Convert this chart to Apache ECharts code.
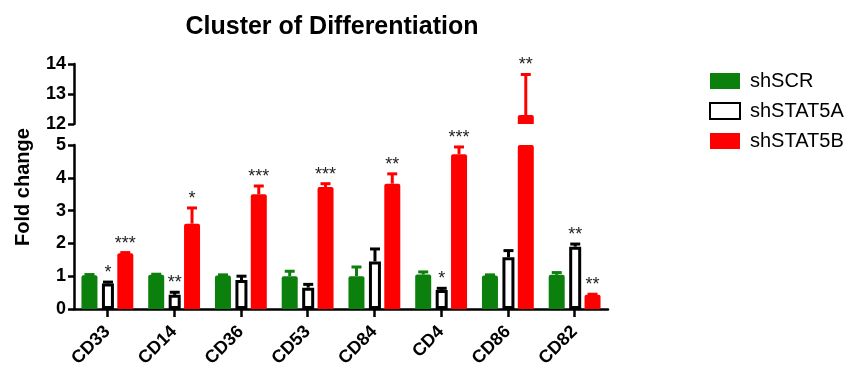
<!DOCTYPE html>
<html>
<head>
<meta charset="utf-8">
<script src="https://cdn.jsdelivr.net/npm/echarts@6/dist/echarts.min.js"></script>
<style>
  html, body { margin: 0; padding: 0; background: #fff; }
  #chart { width: 852px; height: 370px; }
</style>
</head>
<body>
<div id="chart"></div>
<script>
// Fold change per surface marker, three knock-down conditions
const categories = ['CD33', 'CD14', 'CD36', 'CD53', 'CD84', 'CD4', 'CD86', 'CD82'];
const seriesNames = ['shSCR', 'shSTAT5A', 'shSTAT5B'];

const scrValues    = [1.03, 1.04, 1.02, 1.00, 1.00, 1.05, 1.02, 1.04];
const scrErrors    = [0.02, 0.02, 0.02, 0.15, 0.28, 0.08, 0.02, 0.07];
const stat5aValues = [0.78, 0.43, 0.88, 0.65, 1.45, 0.58, 1.58, 1.90];
const stat5aErrors = [0.04, 0.08, 0.12, 0.10, 0.38, 0.05, 0.20, 0.08];
const stat5bValues = [1.70, 2.60, 3.50, 3.72, 3.82, 4.72, 12.30, 0.43];
const stat5bErrors = [0.02, 0.48, 0.25, 0.10, 0.30, 0.22, 1.35, 0.02];

// significance marks vs shSCR
const scrStars    = ['', '', '', '', '', '', '', ''];
const stat5aStars = ['*', '**', '', '', '', '*', '', '**'];
const stat5bStars = ['***', '*', '***', '***', '**', '***', '**', '**'];

// broken y axis: lower and upper segments
const lowerTicks = [0, 1, 2, 3, 4, 5];
const upperTicks = [12, 13, 14];

const FONT = '"Liberation Sans", Arial, sans-serif';
const GREEN = '#0c800c';
const RED = '#ff0000';
const BLACK = '#000000';

const lowMin = lowerTicks[0], lowMax = lowerTicks[lowerTicks.length - 1];
const upMin = upperTicks[0], upMax = upperTicks[upperTicks.length - 1];

const groups = [
  { name: seriesNames[0], values: scrValues, errors: scrErrors, stars: scrStars,
    width: 16, color: GREEN, fill: GREEN, border: 0, offset: -17.9 },
  { name: seriesNames[1], values: stat5aValues, errors: stat5aErrors, stars: stat5aStars,
    width: 12, color: BLACK, fill: '#ffffff', border: 3, offset: 0.6 },
  { name: seriesNames[2], values: stat5bValues, errors: stat5bErrors, stars: stat5bStars,
    width: 16, color: RED, fill: RED, border: 0, offset: 17.9 }
];

function barSeries(g, axisIdx, lo) {
  return {
    name: g.name,
    type: 'bar',
    xAxisIndex: axisIdx,
    yAxisIndex: axisIdx,
    barWidth: g.width,
    barGap: '28%',
    clip: true,
    data: g.values.map(v => (v > lo ? v : null)),
    itemStyle: {
      color: g.fill,
      borderColor: BLACK,
      borderWidth: g.border,
      borderRadius: g.border ? 0 : [2, 2, 0, 0]
    },
    emphasis: { disabled: true },
    z: 2
  };
}

function errorSeries(g, axisIdx, lo, hi) {
  const data = [];
  g.values.forEach((v, i) => {
    if (v >= lo && v <= hi) data.push([i, v, g.errors[i]]);
  });
  return {
    name: g.name + ' error',
    type: 'custom',
    xAxisIndex: axisIdx,
    yAxisIndex: axisIdx,
    encode: { x: 0, y: 1 },
    data: data,
    z: 5,
    silent: true,
    renderItem: function (params, api) {
      const i = api.value(0), v = api.value(1), e = api.value(2);
      const base = api.coord([i, v]);
      const top = api.coord([i, v + e]);
      const x = base[0] + g.offset;
      const children = [];
      if (e > 0) {
        children.push({ type: 'line',
          shape: { x1: x, y1: base[1], x2: x, y2: top[1] },
          style: { stroke: g.color, lineWidth: 3 } });
        children.push({ type: 'line',
          shape: { x1: x - 5, y1: top[1], x2: x + 5, y2: top[1] },
          style: { stroke: g.color, lineWidth: 3 } });
      }
      const star = g.stars[i];
      if (star) {
        children.push({ type: 'text', x: x, y: top[1] - 18,
          style: { text: star, fill: '#222', font: '18px ' + FONT,
                   align: 'center', verticalAlign: 'top' } });
      }
      return { type: 'group', children: children };
    }
  };
}

const axisLine = { show: true, lineStyle: { color: BLACK, width: 2.5 } };
const axisTick = { show: true, length: 6, lineStyle: { color: BLACK, width: 2.5 } };
const yLabel = { color: BLACK, fontSize: 18, fontWeight: 'bold', fontFamily: FONT, margin: 8 };

const series = [];
groups.forEach(g => series.push(barSeries(g, 0, lowMin - 1)));
groups.forEach(g => series.push(barSeries(g, 1, upMin)));
groups.forEach(g => series.push(errorSeries(g, 0, lowMin, lowMax)));
groups.forEach(g => series.push(errorSeries(g, 1, upMin, upMax)));

const option = {
  animation: false,
  backgroundColor: '#ffffff',
  title: {
    text: 'Cluster of Differentiation',
    left: 327, top: 10, textAlign: 'center',
    textStyle: { color: BLACK, fontSize: 25, fontWeight: 'bold', fontFamily: FONT }
  },
  legend: {
    data: seriesNames,
    orient: 'vertical',
    left: 704, top: 66,
    itemWidth: 30, itemHeight: 16, itemGap: 10,
    icon: 'rect',
    selectedMode: false,
    textStyle: { color: BLACK, fontSize: 20, fontFamily: FONT, padding: [0, 0, 0, 5] }
  },
  grid: [
    { left: 74, width: 534, top: 145, height: 164 },
    { left: 74, width: 534, top: 64, height: 60 }
  ],
  xAxis: [
    { type: 'category', gridIndex: 0, data: categories,
      axisLine: axisLine,
      axisTick: { show: true, alignWithLabel: true, length: 8, lineStyle: { color: BLACK, width: 2.5 } },
      axisLabel: { rotate: 45, interval: 0, margin: 20, color: BLACK, fontSize: 18,
                   fontWeight: 'bold', fontFamily: FONT } },
    { type: 'category', gridIndex: 1, data: categories, show: false }
  ],
  yAxis: [
    { type: 'value', gridIndex: 0, min: lowMin, max: lowMax, interval: 1,
      axisLine: axisLine, axisTick: axisTick, axisLabel: yLabel, splitLine: { show: false } },
    { type: 'value', gridIndex: 1, min: upMin, max: upMax, interval: 1,
      axisLine: axisLine, axisTick: axisTick, axisLabel: yLabel, splitLine: { show: false } }
  ],
  graphic: [
    { type: 'text', x: 23, y: 187, rotation: Math.PI / 2,
      style: { text: 'Fold change', fill: BLACK, font: 'bold 20px ' + FONT,
               align: 'center', verticalAlign: 'middle' } }
  ],
  series: series
};

const chart = echarts.init(document.getElementById('chart'), null, { renderer: 'canvas' });
chart.setOption(option);
</script>
</body>
</html>
